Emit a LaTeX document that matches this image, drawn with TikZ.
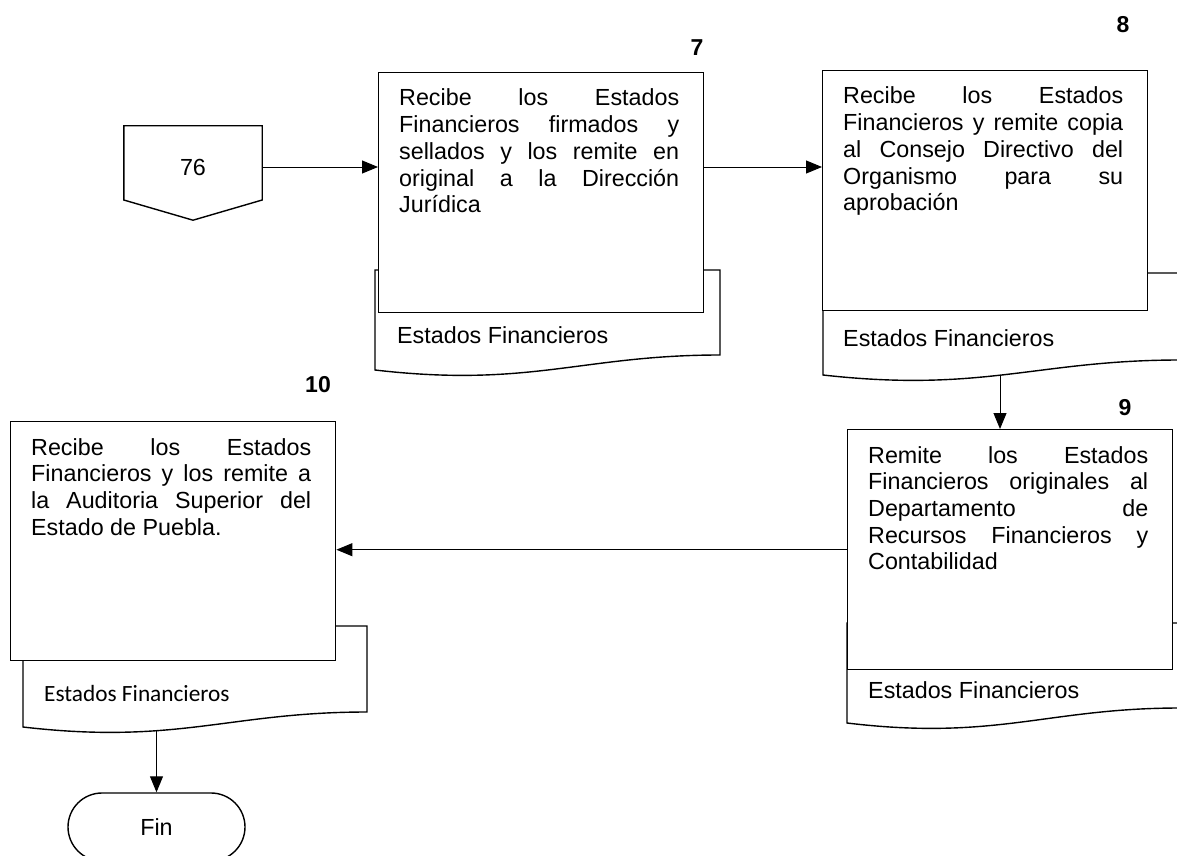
\documentclass[tikz,border=0pt]{standalone}
\usepackage{fontspec}
\setmainfont{Liberation Sans}
\newfontfamily\calibrifont{Carlito}
\usetikzlibrary{arrows.meta,shapes.misc,positioning}

\tolerance=10000
\hbadness=10000
\hyphenpenalty=10000

% left, top, right, bottom left
\newcommand{\docshape}[4]{%
  \draw[doc] (#1,#4) -- (#1,#2) -- (#3,#2) -- (#3,{#4-15})
    .. controls ({#1+0.6*(#3-#1)},{#4-15}) and ({#1+0.45*(#3-#1)},{#4+18}) .. (#1,#4) -- cycle;}

\begin{document}
\begin{tikzpicture}[x=1pt,y=-1pt]

\def\bw{325}
\def\bh{240}
\def\tx{21}
\def\ty{34}

\tikzset{box/.style = {draw, line width=1.4pt, fill=white, minimum width=\bw, minimum height=\bh, inner sep=0pt, anchor=north west}}
\tikzset{doc/.style = {draw, line width=1.4pt, fill=white}}
\tikzset{txt/.style = {text width=280pt, align=justify, inner sep=0pt, anchor=base west, font=\fontsize{23.3}{26.7}\selectfont}}
\tikzset{lbl/.style = {inner sep=0pt, anchor=base west, font=\fontsize{23.3}{26.7}\selectfont}}
\tikzset{num/.style = {inner sep=0pt, font=\bfseries\fontsize{23}{26}\selectfont}}
\tikzset{arr/.style = {line width=1pt, -{Triangle[length=16pt,width=13pt]}}}
\tikzset{term/.style = {draw, line width=1.4pt, rounded rectangle, minimum width=177, minimum height=68, inner sep=0pt, font=\fontsize{23.3}{26.7}\selectfont}}

\useasboundingbox (0,0) rectangle (1177,856);
\clip (0,0) rectangle (1177,856);

\docshape{375}{270}{720}{370}
\docshape{823}{273}{1180}{375}
\docshape{847}{623}{1180}{723}
\docshape{23}{626}{367}{727}

\node[box] (b7) at (378,72) {};
\node[box] (b8) at (822,70) {};
\node[box] (b9) at (847,429) {};
\node[box, minimum height=239] (b10) at (10,421) {};

\node[num] (n7) at (697,48) {7};
\node[num] (n8) at (1123,25) {8};
\node[num] (n9) at (1125,408) {9};
\node[num] (n10) at (318,385) {10};

\node[txt] (t7) at ([shift={(\tx,\ty)}]b7.north west) {Recibe los Estados\linebreak Financieros firmados y\linebreak sellados y los remite en\linebreak original a la Dirección\linebreak Jurídica};
\node[txt] (t8) at ([shift={(\tx,\ty)}]b8.north west) {Recibe los Estados\linebreak Financieros y remite copia\linebreak al Consejo Directivo del\linebreak Organismo para su\linebreak aprobación};
\node[txt] (t9) at ([shift={(\tx,\ty)}]b9.north west) {Remite los Estados\linebreak Financieros originales al\linebreak Departamento de\linebreak Recursos Financieros y\linebreak Contabilidad};
\node[txt] (t10) at ([shift={(\tx,\ty)}]b10.north west) {Recibe los Estados\linebreak Financieros y los remite a\linebreak la Auditoria Superior del\linebreak Estado de Puebla.};

\node[lbl] (l7) at ([shift={(19,30)}]b7.south west) {Estados Financieros};
\node[lbl] (l8) at ([shift={(21,35)}]b8.south west) {Estados Financieros};
\node[lbl] (l9) at ([shift={(21,28)}]b9.south west) {Estados Financieros};
\node[lbl, font=\calibrifont\fontsize{23.3}{26.7}\selectfont] (l10) at ([shift={(34,40)}]b10.south west) {Estados Financieros};

% off page connector
\node[minimum width=138, minimum height=82, inner sep=0pt, font=\fontsize{23.3}{26.7}\selectfont] (c76) at (193,167) {76};
\draw[doc, fill=none] (c76.north west) -- (c76.north east) -- ([yshift=-33pt]c76.east) -- ([yshift=-12pt]c76.south) -- ([yshift=-33pt]c76.west) -- cycle;

\node[term] (fin) at (156.5,827) {Fin};

\coordinate (d8b) at (1000,376);
\coordinate (d10b) at (156.5,730);

\draw[arr] (c76.east) -- (c76.east -| b7.west);
\draw[arr] (b7.east |- c76.east) -- (b8.west |- c76.east);
\draw[arr] (d8b) -- (d8b |- b9.north);
\draw[arr] (b9.west) -- (b9.west -| b10.east);
\draw[arr] (d10b) -- (fin.north);

\end{tikzpicture}
\end{document}
